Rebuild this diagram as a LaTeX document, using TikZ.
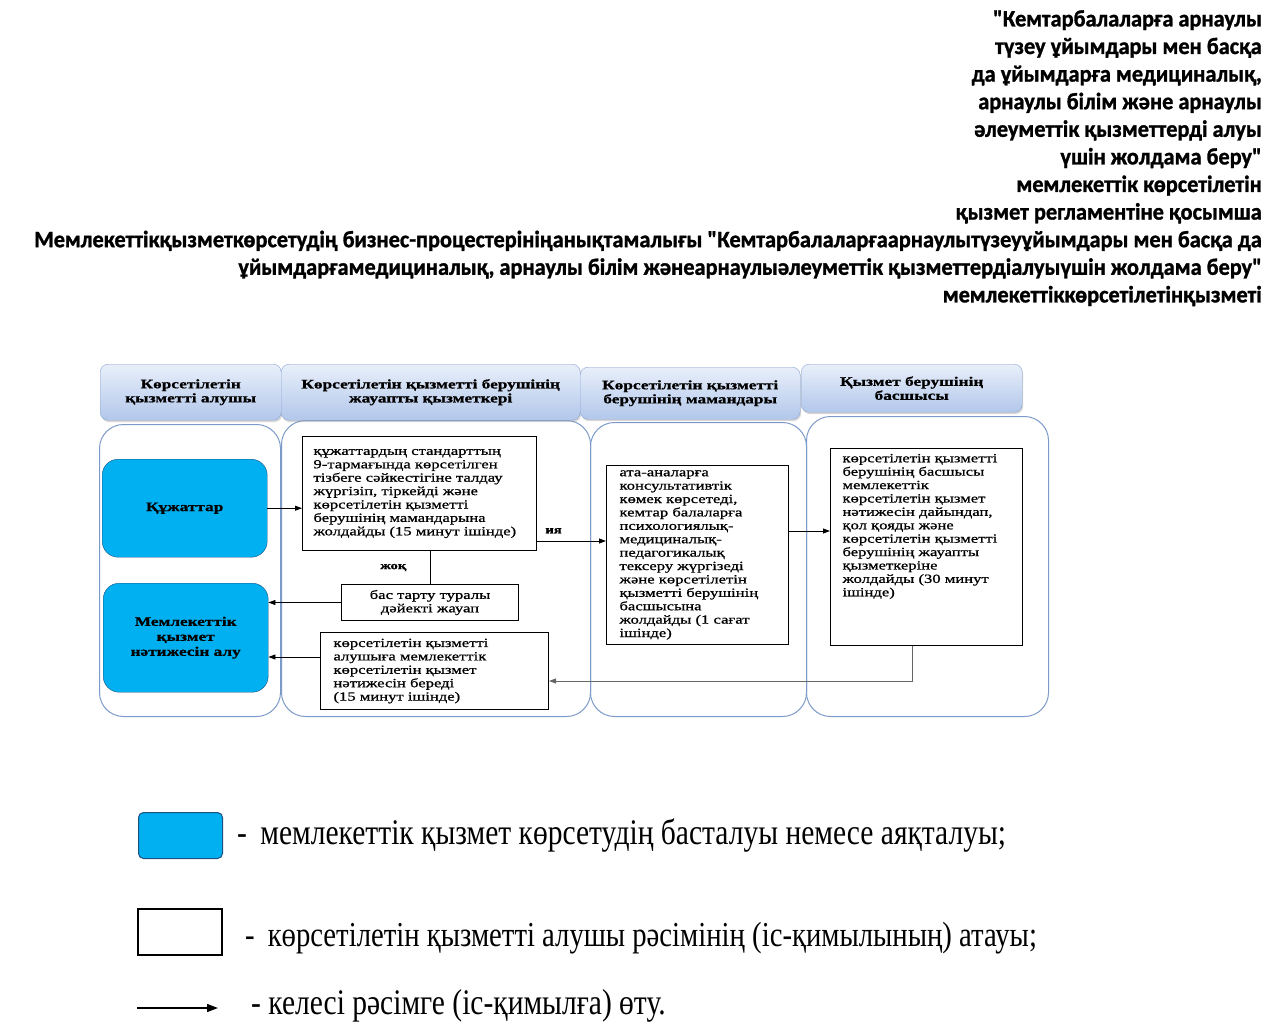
\documentclass[tikz,border=0pt]{standalone}
\usepackage{fontspec}
\setmainfont{Liberation Serif}
\newfontfamily\headfont[FakeStretch=0.95, FakeBold=1.2]{Carlito}
\newfontfamily\widefont[FakeStretch=1.33, FakeBold=0.9]{Liberation Serif}
\newfontfamily\legfont[FakeStretch=0.82]{Liberation Serif}
\usepackage{xcolor}
\usetikzlibrary{arrows.meta,positioning,shadows}
\definecolor{startblue}{RGB}{0,176,240}
\definecolor{startedge}{RGB}{30,80,130}
\definecolor{laneedge}{RGB}{125,155,200}
\definecolor{headedge}{RGB}{140,165,210}
\definecolor{headtop}{RGB}{232,239,250}
\definecolor{headbot}{RGB}{178,199,235}

\begin{document}
\begin{tikzpicture}[
  x=1pt, y=-1pt,
  lanehead/.style={
    rectangle, rounded corners=8pt, draw=headedge, top color=headtop, bottom color=headbot,
    drop shadow={opacity=0.3, shadow xshift=1pt, shadow yshift=-2pt},
    font=\widefont\fontsize{13}{14}\selectfont\bfseries, align=center, anchor=north west, inner sep=2pt
  },
  lanebody/.style={
    rectangle, rounded corners=24pt, draw=laneedge, line width=1pt,
    anchor=north west, inner sep=0pt
  },
  terminal/.style={
    rectangle, rounded corners=16pt, draw=startedge, fill=startblue,
    font=\widefont\fontsize{13}{15}\selectfont\bfseries, align=center,
    anchor=north west, inner sep=2pt
  },
  actbox/.style={
    rectangle, draw=black, line width=1pt, fill=white,
    font=\widefont\fontsize{12.5}{13.4}\selectfont, align=left,
    anchor=north west, inner xsep=11pt, inner ysep=3pt
  },
  lbl/.style={font=\widefont\fontsize{11}{13}\selectfont\bfseries},
  legtext/.style={font=\legfont\fontsize{36}{40}\selectfont, anchor=west, inner sep=0pt},
  arr/.style={-{Triangle[length=7pt,width=5pt]}, line width=0.8pt, black},
  legarr/.style={-{Triangle[length=11pt,width=8pt]}, line width=1.3pt, black},
]
\path[fill=white, use as bounding box] (0,0) rectangle (1282,1028);

% ── Title ──
\node[anchor=north east, align=right, inner sep=0pt,
  font=\headfont\bfseries\fontsize{23.5}{27.6}\selectfont] (title) at (1262,10)
  {"Кемтарбалаларға арнаулы\\
   түзеу ұйымдары мен басқа\\
   да ұйымдарға медициналық,\\
   арнаулы білім және арнаулы\\
   әлеуметтік қызметтерді алуы\\
   үшін жолдама беру"\\
   мемлекеттік көрсетілетін\\
   қызмет регламентіне қосымша\\
   Мемлекеттікқызметкөрсетудің бизнес-процестерініңанықтамалығы "Кемтарбалаларғаарнаулытүзеуұйымдары мен басқа да\\
   ұйымдарғамедициналық, арнаулы білім жәнеарнаулыәлеуметтік қызметтердіалуыүшін жолдама беру"\\
   мемлекеттіккөрсетілетінқызметі};

% ── Lanes ──
\node[lanebody, minimum width=181pt, minimum height=292pt] (body1) at (99,424) {};
\node[lanebody, minimum width=309pt, minimum height=296pt] (body2) at (281,420) {};
\node[lanebody, minimum width=216pt, minimum height=294pt] (body3) at (590,422) {};
\node[lanebody, minimum width=242pt, minimum height=300pt] (body4) at (806,416) {};

\node[lanehead, minimum width=181pt, minimum height=56pt] (head1) at (100,364)
  {Көрсетілетін\\қызметті алушы};
\node[lanehead, minimum width=299pt, minimum height=56pt] (head2) at (281,364)
  {Көрсетілетін қызметті берушінің\\жауапты қызметкері};
\node[lanehead, minimum width=220pt, minimum height=52pt] (head3) at (580,367)
  {Көрсетілетін қызметті\\берушінің мамандары};
\node[lanehead, minimum width=221pt, minimum height=48pt] (head4) at (801,364)
  {Қызмет берушінің\\басшысы};

% ── Nodes ──
\node[terminal, minimum width=165pt, minimum height=98pt] (docs) at (102,459)
  {Құжаттар};
\node[terminal, minimum width=165pt, minimum height=109pt] (result) at (103,583)
  {Мемлекеттік\\қызмет\\нәтижесін алу};

\node[actbox, text width=212pt, minimum width=234pt, minimum height=114pt] (check) at (302,436)
  {құжаттардың стандарттың\\
   9-тармағында көрсетілген\\
   тізбеге сәйкестігіне талдау\\
   жүргізіп, тіркейді және\\
   көрсетілетін қызметті\\
   берушінің мамандарына\\
   жолдайды (15 минут ішінде)};

\node[actbox, align=center, text width=155pt, minimum width=177pt, minimum height=36pt] (reject) at (341,584)
  {бас тарту туралы\\дәйекті жауап};

\node[actbox, inner xsep=13pt, text width=202pt, minimum width=228pt, minimum height=77pt] (deliver) at (320,632)
  {көрсетілетін қызметті\\
   алушыға мемлекеттік\\
   көрсетілетін қызмет\\
   нәтижесін береді\\
   (15 минут ішінде)};

\node[actbox, inner xsep=13pt, text width=156pt, minimum width=182pt, minimum height=179pt] (consult) at (606,465)
  {ата-аналарға\\
   консультативтік\\
   көмек көрсетеді,\\
   кемтар балаларға\\
   психологиялық-\\
   медициналық-\\
   педагогикалық\\
   тексеру жүргізеді\\
   және көрсетілетін\\
   қызметті берушінің\\
   басшысына\\
   жолдайды (1 сағат\\
   ішінде)};

\node[actbox, inner xsep=12pt, inner ysep=4pt, minimum width=192pt, minimum height=197pt] (approve) at (830,448)
  {\parbox[t][186pt][t]{168pt}{\raggedright
   көрсетілетін қызметті\\
   берушінің басшысы\\
   мемлекеттік\\
   көрсетілетін қызмет\\
   нәтижесін дайындап,\\
   қол қояды және\\
   көрсетілетін қызметті\\
   берушінің жауапты\\
   қызметкеріне\\
   жолдайды (30 минут\\
   ішінде)}};

% ── Edges ──
\draw[arr] (docs.east) -- (docs.east -| check.west);
\draw[arr] ([yshift=10pt]check.south east) -- ([yshift=10pt]check.south east -| consult.west)
  node[lbl, pos=0.24, above=4pt] (yes) {ия};
\draw[line width=0.8pt] (reject.north |- check.south) -- (reject.north)
  node[lbl, midway, left=20pt] (no) {жоқ};
\draw[arr] (reject.west) -- (reject.west -| result.east);
\draw[arr] ([yshift=14pt]deliver.west) -- ([yshift=14pt]deliver.west -| result.east);
\draw[arr] ([yshift=24pt]consult.east) -- ([yshift=24pt]consult.east -| approve.west);
\draw[arr, draw=black!60] ([xshift=-14pt]approve.south) |- ([yshift=-10pt]deliver.east);

% ── Legend ──
\node[rectangle, rounded corners=5pt, draw=startedge, fill=startblue, line width=1pt,
  minimum width=84pt, minimum height=46pt, anchor=north west] (legstart) at (138,812) {};
\node[legtext, right=14pt of legstart] (legstarttext)
  {-\, мемлекеттік қызмет көрсетудің басталуы немесе аяқталуы;};
\node[rectangle, draw=black, line width=2pt, fill=white,
  minimum width=84pt, minimum height=46pt, anchor=north west] (legact) at (137,908) {};
\node[legtext, right=22pt of legact, yshift=-6pt, font=\legfont\fontsize{35}{40}\selectfont] (legacttext)
  {-\, көрсетілетін қызметті алушы рәсімінің (іс-қимылының) атауы;};
\coordinate (legfrom) at (137,1008);
\coordinate (legto) at (218,1008);
\draw[legarr] (legfrom) -- (legto);
\node[legtext, right=33pt of legto, yshift=2pt] (legarrtext)
  {- келесі рәсімге (іс-қимылға) өту.};
\end{tikzpicture}
\end{document}
